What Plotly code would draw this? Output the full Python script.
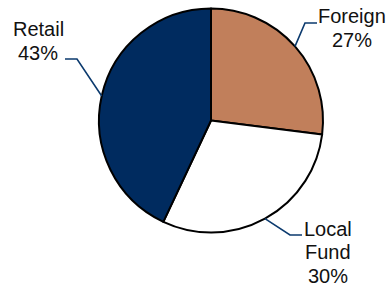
import math
import plotly.graph_objects as go

# ---- data ----
labels = ["Foreign", "Local Fund", "Retail"]
label_lines = [["Foreign"], ["Local", "Fund"], ["Retail"]]
values = [27, 30, 43]
colors = ["#C17F5B", "#FFFFFF", "#002B5F"]

# ---- layout constants (pixels) ----
W, H = 387, 283
CX, CY, R = 211, 120.5, 112
LINE_COLOR = "#0B3A6E"
FONT_SIZE = 20
LINE_STEP = 23.3
# label centre x and centre y of the first text line; leader-line elbow/end points
label_pos = [(352, 16.5), (328, 229), (38, 29.5)]
elbows = [((305, 23), (317, 23)), ((290, 235), (302, 235)), ((77, 59), (65, 59))]


def px(x):
    return x / W


def py(y):
    return 1 - y / H


fig = go.Figure(
    go.Pie(
        labels=labels,
        values=values,
        sort=False,
        direction="clockwise",
        rotation=0,
        marker=dict(colors=colors, line=dict(color="#000000", width=2)),
        textinfo="none",
        hoverinfo="label+percent",
        showlegend=False,
        domain=dict(x=[px(CX - R), px(CX + R)], y=[py(CY + R), py(CY - R)]),
    )
)

total = sum(values)
cum = 0
shapes = []
annotations = []
for i, v in enumerate(values):
    mid = (cum + v / 2) / total * 2 * math.pi
    cum += v
    sx = CX + R * math.sin(mid)
    sy = CY - R * math.cos(mid)
    (ex, ey), (hx, hy) = elbows[i]
    path = f"M {px(sx)},{py(sy)} L {px(ex)},{py(ey)} L {px(hx)},{py(hy)}"
    shapes.append(dict(type="path", xref="paper", yref="paper", path=path,
                       line=dict(color=LINE_COLOR, width=1.6)))
    lx, ly = label_pos[i]
    lines = label_lines[i] + [f"{round(v / total * 100)}%"]
    for k, t in enumerate(lines):
        annotations.append(dict(
            x=px(lx), y=py(ly + k * LINE_STEP), xref="paper", yref="paper",
            text=t, showarrow=False, xanchor="center", yanchor="middle",
            font=dict(family="Arial, Liberation Sans, sans-serif", size=FONT_SIZE,
                      color="#111111"),
        ))

fig.update_layout(
    width=W, height=H,
    margin=dict(l=0, r=0, t=0, b=0),
    paper_bgcolor="white", plot_bgcolor="white",
    shapes=shapes, annotations=annotations,
)

fig.write_html(
    "out.html",
    config={"displayModeBar": False},
    post_script="document.body.style.margin='0';document.body.style.padding='0';",
)
